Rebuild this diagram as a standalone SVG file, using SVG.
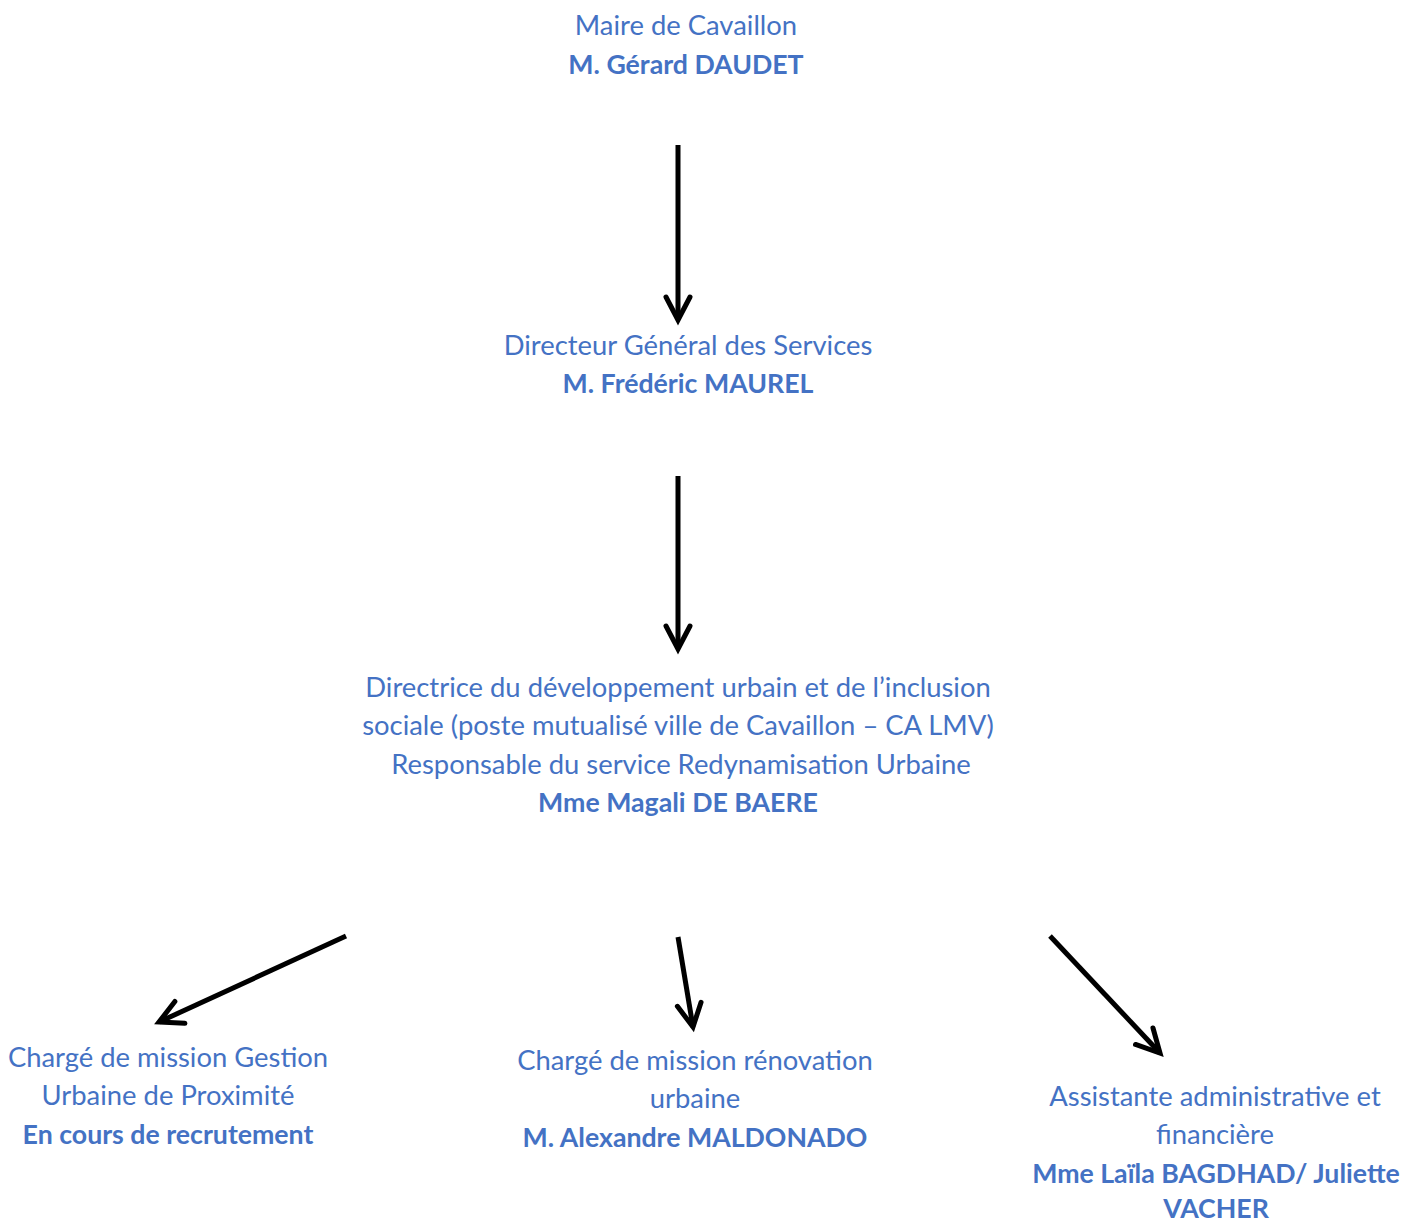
<svg xmlns="http://www.w3.org/2000/svg" width="1402" height="1222" viewBox="0 0 1402 1222">
<defs>
<style>
text{font-family:Lato,"Open Sans","Liberation Sans",sans-serif;font-size:27.4px;fill:#4472C4;text-anchor:middle}
.b{font-weight:bold;font-size:26.7px}
.c{stroke:#000;stroke-width:5;fill:none}
</style>
<marker id="ah" markerUnits="userSpaceOnUse" viewBox="-30 -16 34 32" refX="0" refY="0" markerWidth="34" markerHeight="32" orient="auto" overflow="visible">
<path d="M-23,-12 L0,0 L-23,12" fill="none" stroke="#000" stroke-width="5" stroke-linecap="round" stroke-linejoin="miter"/>
</marker>
</defs>
<rect width="1402" height="1222" fill="#fff"/>
<g id="connectors">
<line class="c" x1="678" y1="145" x2="678" y2="320" marker-end="url(#ah)"/>
<line class="c" x1="678" y1="476" x2="678" y2="649" marker-end="url(#ah)"/>
<line class="c" x1="346" y1="936" x2="159" y2="1022" marker-end="url(#ah)"/>
<line class="c" x1="678" y1="937" x2="693" y2="1027" marker-end="url(#ah)"/>
<line class="c" x1="1050" y1="936" x2="1160" y2="1053" marker-end="url(#ah)"/>
</g>
<g id="maire">
<text x="686" y="35">Maire de Cavaillon</text>
<text class="b" x="686" y="74">M. Gérard DAUDET</text>
</g>
<g id="dgs">
<text x="688" y="355">Directeur Général des Services</text>
<text class="b" x="688" y="393">M. Frédéric MAUREL</text>
</g>
<g id="directrice">
<text x="678" y="697">Directrice du développement urbain et de l’inclusion</text>
<text x="678" y="735">sociale (poste mutualisé ville de Cavaillon – CA LMV)</text>
<text x="681" y="774">Responsable du service Redynamisation Urbaine</text>
<text class="b" x="678" y="812">Mme Magali DE BAERE</text>
</g>
<g id="gup">
<text x="168" y="1067">Chargé de mission Gestion</text>
<text x="168" y="1105">Urbaine de Proximité</text>
<text class="b" x="168" y="1144">En cours de recrutement</text>
</g>
<g id="renovation">
<text x="695" y="1070">Chargé de mission rénovation</text>
<text x="695" y="1108">urbaine</text>
<text class="b" x="695" y="1147">M. Alexandre MALDONADO</text>
</g>
<g id="assistante">
<text x="1215" y="1106">Assistante administrative et</text>
<text x="1215" y="1144">financière</text>
<text class="b" x="1216" y="1183">Mme Laïla BAGDHAD/ Juliette</text>
<text class="b" x="1216" y="1218">VACHER</text>
</g>
</svg>
